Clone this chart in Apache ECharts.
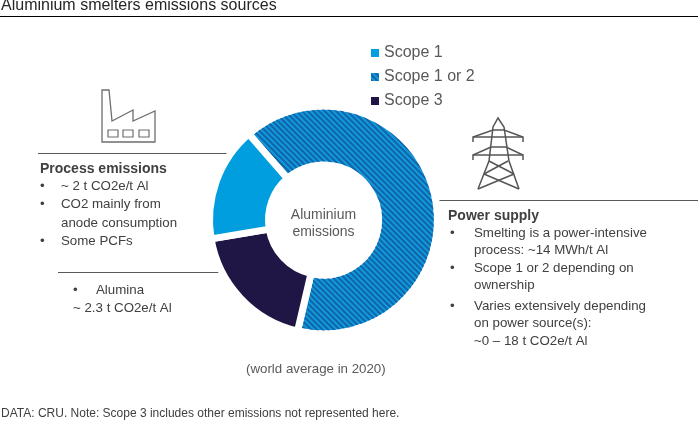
<!DOCTYPE html>
<html><head><meta charset="utf-8">
<style>html,body{margin:0;padding:0;background:#fff}#c{width:698px;height:422px}</style>
<script src="https://cdn.jsdelivr.net/npm/echarts@6/dist/echarts.min.js"></script>
</head><body><div id="c"></div>
<script>
const categories = ['Scope 1 or 2', 'Scope 3', 'Scope 1'];
const values = [8, 2.3, 2];
const legendOrder = ['Scope 1', 'Scope 1 or 2', 'Scope 3'];
const titleText = 'Aluminium smelters emissions sources';
const centerText = 'Aluminium\nemissions';
const noteText = '(world average in 2020)';
const sourceText = 'DATA: CRU. Note: Scope 3 includes other emissions not represented here.';

const FONT = '"Liberation Sans", Arial, sans-serif';
const GREY = '#595959', DARK = '#404040', LINE = '#595959';
const C1 = '#009ede', C3 = '#1f1646';

const chart = echarts.init(document.getElementById('c'), null, {renderer: 'canvas'});

function txt(x, y, text, o) {
  return {type: 'text', x, y, silent: true, style: Object.assign({
    text, font: '13.3px ' + FONT, fill: DARK, textVerticalAlign: 'middle', verticalAlign: 'middle'
  }, o || {})};
}
function ln(x1, y1, x2, y2, w, c) {
  return {type: 'line', silent: true, shape: {x1, y1, x2, y2}, style: {stroke: c || LINE, lineWidth: w || 1}};
}
function poly(points, c, w, closed) {
  return {type: closed ? 'polygon' : 'polyline', silent: true, shape: {points},
    style: {stroke: c || '#6e6e6e', lineWidth: w || 1.4, fill: null}};
}
const B = {font: 'bold 14px ' + FONT, fill: DARK};
const factory = [
  poly([[102,121],[102,90],[109,90],[112,121],[133,110],[133,121],[155,111],[155,142],[102,142]], '#6e6e6e', 1.3, true),
  poly([[108,130],[118,130],[118,137],[108,137]], '#6e6e6e', 1.2, true),
  poly([[123,130],[133,130],[133,137],[123,137]], '#6e6e6e', 1.2, true),
  poly([[139,130],[149,130],[149,137],[139,137]], '#6e6e6e', 1.2, true)
];
const P = '#555555';
const pylon = [
  poly([[478,189],[489,161],[493,127],[498,118],[504,127],[509,161],[519,189]], P, 1.5),
  poly([[473,142],[473,137],[493,130],[504,130],[523,137],[523,142]], P, 1.5),
  poly([[473,160],[473,155],[491,147],[506,147],[523,155],[523,160]], P, 1.5),
  ln(473,137,523,137,1.5,P), ln(473,155,523,155,1.5,P),
  ln(489,161,514,174,1.5,P), ln(508,161,484,174,1.5,P),
  ln(484,174,519,189,1.5,P), ln(514,174,478,189,1.5,P)
];

chart.setOption({
  animation: false,
  backgroundColor: '#fff',
  legend: {
    orient: 'vertical', left: 364, top: 40, itemWidth: 10, itemHeight: 10, itemGap: 8, icon: 'rect',
    data: legendOrder, selectedMode: false,
    textStyle: {fontFamily: FONT, fontSize: 16, color: GREY, padding: [0,0,0,-1], lineHeight: 16}
  },
  series: [{
    type: 'pie', center: [323.5, 220], radius: [55, 114], startAngle: 131, clockwise: true,
    silent: true, label: {show: false}, labelLine: {show: false},
    itemStyle: {borderColor: '#fff', borderWidth: 7},
    data: categories.map((name, i) => ({
      name, value: values[i],
      itemStyle: i === 0
        ? {color: '#0f9adb', decal: {symbol: 'rect', color: '#1263a8', dashArrayX: [1, 0], dashArrayY: [1.5, 1.5], rotation: Math.PI / 4}}
        : {color: i === 1 ? C3 : C1}
    }))
  }],
  graphic: {elements: [
    txt(1, 6, titleText, {font: '16px ' + FONT, fill: '#262626'}),
    ln(0, 16.5, 698, 16.5, 1, '#000'),
    ...factory,
    ln(38, 153.5, 232, 153.5),
    txt(40, 169, 'Process emissions', B),
    txt(40, 186, '•'), txt(61, 186, '~ 2 t CO2e/t Al'),
    txt(40, 204, '•'), txt(61, 204, 'CO2 mainly from'),
    txt(61, 223, 'anode consumption'),
    txt(40, 241, '•'), txt(61, 241, 'Some PCFs'),
    ln(58, 272.5, 232, 272.5),
    txt(73, 290, '•'), txt(96, 290, 'Alumina'),
    txt(73, 308, '~ 2.3 t CO2e/t Al'),
    txt(323.5, 215, 'Aluminium', {textAlign: 'center', align: 'center', fill: GREY, font: '14px ' + FONT}),
    txt(323.5, 232, 'emissions', {textAlign: 'center', align: 'center', fill: GREY, font: '14px ' + FONT}),
    ...pylon,
    ln(435, 200.5, 698, 200.5),
    txt(448, 216, 'Power supply', B),
    txt(450, 233, '•'), txt(474, 233, 'Smelting is a power-intensive'),
    txt(474, 250, 'process: ~14 MWh/t Al'),
    txt(450, 268, '•'), txt(474, 268, 'Scope 1 or 2 depending on'),
    txt(474, 285, 'ownership'),
    txt(450, 306, '•'), txt(474, 306, 'Varies extensively depending'),
    txt(474, 323, 'on power source(s):'),
    txt(474, 341, '~0 – 18 t CO2e/t Al'),
    txt(246, 369, noteText, {font: '13.3px ' + FONT, fill: GREY}),
    txt(1, 414, sourceText, {font: '12px ' + FONT, fill: DARK})
  ]}
});
</script></body></html>
